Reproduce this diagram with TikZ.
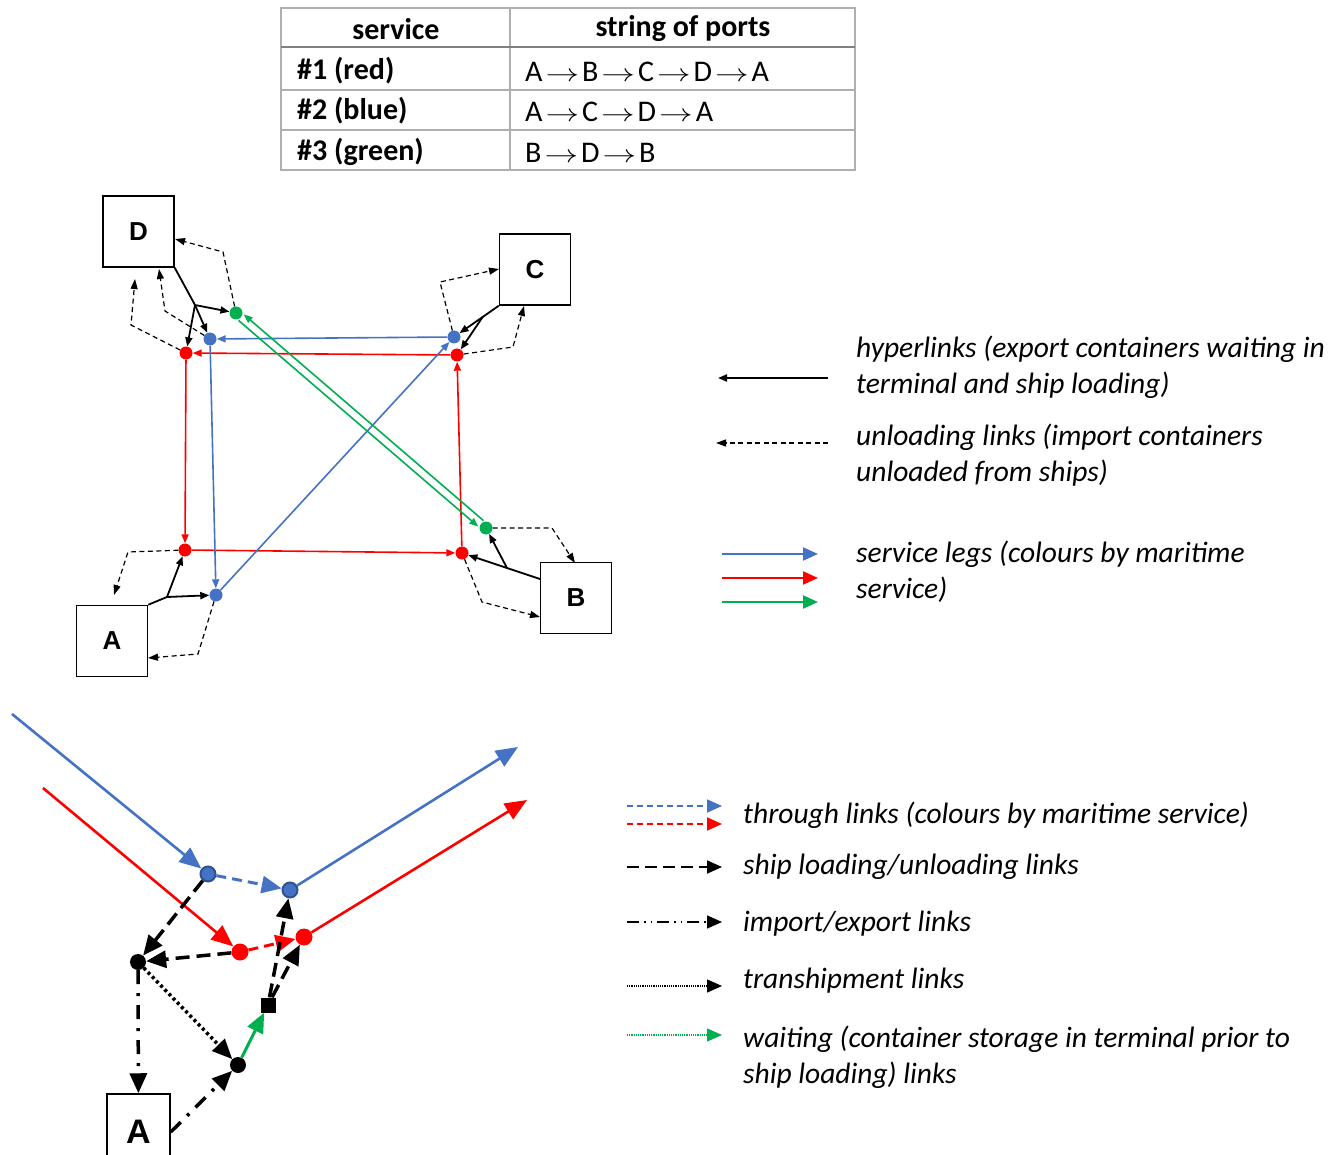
\documentclass[tikz,border=0pt]{standalone}
\usepackage{fontspec}
\setmainfont{Carlito}
\newfontfamily\arialf{Liberation Sans}
\usetikzlibrary{arrows.meta,calc}
\definecolor{sblue}{RGB}{68,114,196}
\definecolor{sbluedk}{RGB}{47,82,143}
\definecolor{sred}{RGB}{255,0,0}
\definecolor{sgreen}{RGB}{0,176,80}
\definecolor{tgray}{RGB}{175,175,175}
\definecolor{tgraydk}{RGB}{128,128,128}
\newcommand{\pto}{\hspace{3pt}\scalebox{1.35}[1]{$\rightarrow$}\hspace{3pt}}
\begin{document}
\begin{tikzpicture}[x=1pt,y=-1pt,
  port/.style={draw, line width=1.5pt, fill=white, inner sep=0pt, minimum width=71pt, minimum height=71pt, font=\fontsize{26}{30}\selectfont\arialf\bfseries},
  portbig/.style={port, minimum width=63pt, minimum height=76pt, font=\fontsize{34}{38}\selectfont\arialf\bfseries},
  dot/.style={circle, fill, inner sep=0pt, minimum size=13pt},
  bdot/.style={circle, fill, inner sep=0pt, minimum size=17pt},
  leg/.style={line width=1.6pt, -{Triangle[length=9pt,width=7pt]}},
  hyp/.style={black, line width=1.8pt, -{Triangle[length=9pt,width=7pt]}},
  hypl/.style={black, line width=1.8pt},
  unl/.style={black, line width=1.2pt, dash pattern=on 5pt off 3.5pt, -{Triangle[length=10pt,width=7pt]}},
  sleg2/.style={line width=2.6pt, -{Triangle[length=22pt,width=18pt]}},
  thr/.style={line width=3pt, dash pattern=on 10pt off 6pt, -{Triangle[length=20pt,width=17pt]}},
  load/.style={black, line width=3.5pt, dash pattern=on 14pt off 7pt, -{Triangle[length=20pt,width=17pt]}},
  impexp/.style={black, line width=3.5pt, dash pattern=on 14pt off 9pt on 3pt off 9pt, -{Triangle[length=20pt,width=17pt]}},
  trans/.style={black, line width=3.5pt, dash pattern=on 3pt off 3pt, -{Triangle[length=20pt,width=17pt]}},
  wait/.style={sgreen, line width=3pt, -{Triangle[length=20pt,width=17pt]}},
  lgtip/.style={-{Triangle[length=15pt,width=13pt]}},
  legtext/.style={font=\fontsize{29.5}{36}\selectfont\itshape, align=left, anchor=west, inner sep=0pt},
  thead/.style={font=\fontsize{30}{34}\selectfont\bfseries, inner sep=0pt},
  tcell/.style={font=\fontsize{30}{34}\selectfont, inner sep=0pt, anchor=west}
]
\useasboundingbox (0,0) rectangle (1331,1155);

% ---------------- table ----------------
\draw[tgray, line width=1.5pt] (281,8) rectangle (855,170);
\draw[tgray, line width=1.5pt] (510,8) -- (510,170);
\draw[tgray, line width=1.5pt] (281,90) -- (855,90);
\draw[tgray, line width=1.5pt] (281,130) -- (855,130);
\draw[tgraydk, line width=2.5pt] (281,47) -- (855,47);
\node[thead] (h1) at (396,29) {service};
\node[thead] (h2) at (683,29) {string of ports};
\node[thead, anchor=west] (r1) at (297,71) {\#1 (red)};
\node[thead, anchor=west] (r2) at (297,111) {\#2 (blue)};
\node[thead, anchor=west] (r3) at (297,152) {\#3 (green)};
\node[tcell] (s1) at (525,72) {A\pto B\pto C\pto D\pto A};
\node[tcell] (s2) at (525,112) {A\pto C\pto D\pto A};
\node[tcell] (s3) at (525,153) {B\pto D\pto B};

% ---------------- top network ----------------
\node[port] (D) at (138.5,231.5) {D};
\node[port] (C) at (535,269.5) {C};
\node[port] (A) at (112,641) {A};
\node[port] (B) at (576,598) {B};

\node[dot, sred] (dR) at (186,353) {};
\node[dot, sblue] (dB) at (210,339) {};
\node[dot, sgreen] (dG) at (236,313) {};
\node[dot, sblue] (cB) at (454,337) {};
\node[dot, sred] (cR) at (457,355) {};
\node[dot, sred] (aR) at (185,550) {};
\node[dot, sblue] (aB) at (216,595) {};
\node[dot, sgreen] (bG) at (486,528) {};
\node[dot, sred] (bR) at (462,553) {};

% service legs
\draw[sred, leg] (aR) -- (bR);
\draw[sred, leg] (bR) -- (cR);
\draw[sred, leg] (cR) -- (dR);
\draw[sred, leg] (dR) -- (aR);
\draw[sblue, leg] (aB) -- (cB);
\draw[sblue, leg] (cB) -- (dB);
\draw[sblue, leg] (dB) -- (aB);
\draw[sgreen, leg, transform canvas={shift={(2.6,-3)}}] (bG) -- (dG);
\draw[sgreen, leg, transform canvas={shift={(-2.6,3)}}] (dG) -- (bG);

% hyperlinks
\coordinate (dJ) at (195,305);
\draw[hypl] (D.south east) -- (dJ);
\draw[hyp] (dJ) -- (dR);
\draw[hyp] (dJ) -- (dB);
\draw[hyp] (dJ) -- (dG);
\coordinate (cJ) at (483,316.5);
\draw[hyp] (C.south west) -- (cB);
\draw[hyp] (cJ) -- (cR);
\coordinate (aJ) at (167,597);
\draw[hypl] (A.north east) -- (aJ);
\draw[hyp] (aJ) -- (aR);
\draw[hyp] (aJ) -- (aB);
\coordinate (bS) at (540,579);
\coordinate (bJ) at (507,568);
\draw[hyp] (bS) -- (bR);
\draw[hyp] (bJ) -- (bG);

% unloading links
\coordinate (d1) at (135,279);
\coordinate (d2) at (159,269);
\coordinate (d3) at (175,239);
\draw[unl] (dR) -- (131,325) -- (d1);
\draw[unl] (dB) -- (165,311) -- (d2);
\draw[unl] (dG) -- (223,252) -- (d3);
\coordinate (c1) at (499,269);
\coordinate (c2) at (524,306);
\draw[unl] (cB) -- (440,282) -- (c1);
\draw[unl] (cR) -- (513,347) -- (c2);
\coordinate (a1) at (114,595);
\coordinate (a2) at (148,658);
\draw[unl] (aR) -- (128,552) -- (a1);
\draw[unl] (aB) -- (198,654) -- (a2);
\coordinate (b1) at (575,563);
\coordinate (b2) at (540,617);
\draw[unl] (bG) -- (552,528) -- (b1);
\draw[unl] (bR) -- (482,602) -- (b2);

% top legend
\coordinate (l1s) at (828,378); \coordinate (l1e) at (718,378);
\draw[black, line width=2pt, -{Triangle[length=9pt,width=7pt]}] (l1s) -- (l1e);
\coordinate (l2s) at (828,443); \coordinate (l2e) at (716,443);
\draw[unl] (l2s) -- (l2e);
\coordinate (l3s) at (722,554); \coordinate (l3e) at (818,554);
\coordinate (l4s) at (722,578); \coordinate (l4e) at (818,578);
\coordinate (l5s) at (722,602); \coordinate (l5e) at (818,602);
\draw[sblue, line width=2.2pt, lgtip] (l3s) -- (l3e);
\draw[sred, line width=2.2pt, lgtip] (l4s) -- (l4e);
\draw[sgreen, line width=2.2pt, lgtip] (l5s) -- (l5e);
\node[legtext] (t1) at (856,367) {hyperlinks (export containers waiting in\\terminal and ship loading)};
\node[legtext] (t2) at (856,455) {unloading links (import containers\\unloaded from ships)};
\node[legtext] (t3) at (856,572) {service legs (colours by maritime\\service)};

% ---------------- bottom detail ----------------
\node[portbig] (A2) at (138.5,1132) {A};
\node[bdot, fill=sblue, draw=sbluedk, line width=2pt, minimum size=15pt] (bB1) at (208,874) {};
\node[bdot, fill=sblue, draw=sbluedk, line width=2pt, minimum size=15pt] (bB2) at (290,890) {};
\node[bdot, sred] (rR1) at (240,952) {};
\node[bdot, sred] (rR2) at (304,937) {};
\node[bdot, black, minimum size=16pt] (k1) at (138,962) {};
\node[bdot, black, minimum size=16pt] (k2) at (238,1065) {};
\node[fill=black, inner sep=0pt, minimum size=15pt] (sq) at (268,1005) {};
\coordinate (bi) at (12,714);
\coordinate (ri) at (43,788);
\coordinate (bo) at (518,747);
\coordinate (ro) at (527,800);

\draw[sblue, sleg2] (bi) -- (bB1);
\draw[sred, sleg2] (ri) -- (rR1);
\draw[sblue, sleg2] (bB2) -- (bo);
\draw[sred, sleg2] (rR2) -- (ro);
\draw[sblue, thr] (bB1) -- (bB2);
\draw[sred, thr] (rR1) -- (rR2);
\draw[load] (bB1) -- (k1);
\draw[load] (rR1) -- (k1);
\draw[load] (sq) -- (bB2);
\draw[load] (sq) -- (rR2);
\draw[impexp] (k1) -- (A2);
\draw[impexp] (A2.east) -- (k2);
\draw[trans] (k1) -- (k2);
\draw[wait] (k2) -- (sq);

% bottom legend
\coordinate (m1s) at (627,806); \coordinate (m1e) at (722,806);
\coordinate (m2s) at (627,824); \coordinate (m2e) at (722,824);
\coordinate (m3s) at (627,867); \coordinate (m3e) at (722,867);
\coordinate (m4s) at (627,922); \coordinate (m4e) at (722,922);
\coordinate (m5s) at (627,986); \coordinate (m5e) at (722,986);
\coordinate (m6s) at (627,1035); \coordinate (m6e) at (722,1035);
\draw[sblue, line width=1.8pt, dash pattern=on 6pt off 4pt, lgtip] (m1s) -- (m1e);
\draw[sred, line width=1.8pt, dash pattern=on 6pt off 4pt, lgtip] (m2s) -- (m2e);
\draw[black, line width=1.8pt, dash pattern=on 12pt off 6pt, lgtip] (m3s) -- (m3e);
\draw[black, line width=1.5pt, dash pattern=on 12pt off 5pt on 1.5pt off 5pt on 1.5pt off 5pt, lgtip] (m4s) -- (m4e);
\draw[black, line width=1.2pt, dash pattern=on 1.2pt off 1pt, lgtip] (m5s) -- (m5e);
\draw[sgreen, line width=1.2pt, dash pattern=on 1.2pt off 1pt, lgtip] (m6s) -- (m6e);
\node[legtext] (u1) at (743,815) {through links (colours by maritime service)};
\node[legtext] (u2) at (743,867) {ship loading/unloading links};
\node[legtext] (u3) at (743,924) {import/export links};
\node[legtext] (u4) at (743,981) {transhipment links};
\node[legtext] (u5) at (743,1057) {waiting (container storage in terminal prior to\\ship loading) links};
\end{tikzpicture}
\end{document}
